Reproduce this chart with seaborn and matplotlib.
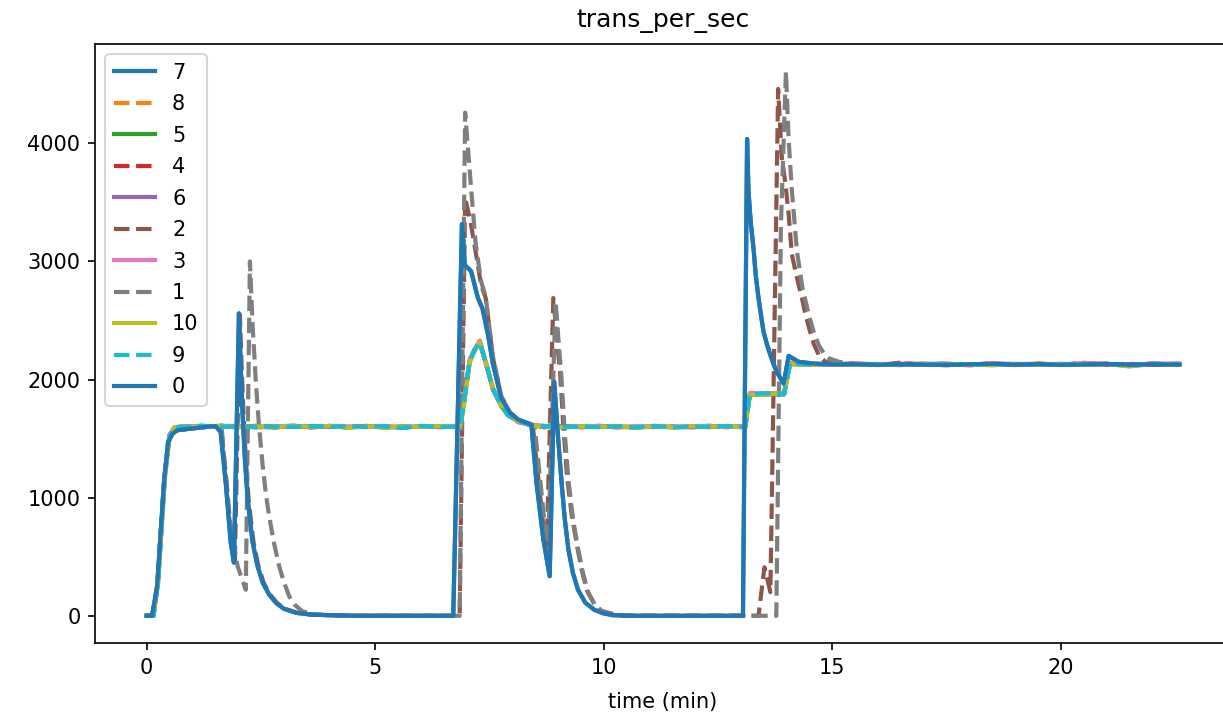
import matplotlib
matplotlib.use("Agg")
import matplotlib.pyplot as plt
import seaborn as sns

# legend / drawing order of the workers
labels = ["7", "8", "5", "4", "6", "2", "3", "1", "10", "9", "0"]

# workers 7 and 0 (blue, same curve)
t_blue = [0, 0.12, 0.23, 0.38, 0.47, 0.56, 0.67, 0.96, 1.34, 1.51,
          1.62, 1.73, 1.84, 1.91, 2.02, 2.06, 2.1, 2.15, 2.21, 2.27,
          2.32, 2.42, 2.54, 2.68, 2.83, 3.0, 3.27, 3.6, 4.0, 4.6,
          6.71, 6.9, 6.96, 7.1, 7.25, 7.35, 7.47, 7.58, 7.76, 7.95,
          8.13, 8.42, 8.53, 8.68, 8.82, 8.92, 9.0, 9.08, 9.15, 9.23,
          9.33, 9.44, 9.6, 9.8, 10.0, 10.2, 10.6, 13.05, 13.14, 13.17,
          13.22, 13.28, 13.33, 13.39, 13.45, 13.5, 13.58, 13.65, 13.72, 13.79,
          13.87, 13.94, 14.05, 14.27, 14.6, 15.0, 15.5, 16.0, 16.5, 17.0,
          17.5, 18.0, 18.5, 19.0, 19.5, 20.0, 20.5, 21.0, 21.5, 22.0,
          22.6]
v_blue = [0, 0, 250, 1130, 1470, 1540, 1570, 1585, 1600, 1606,
          1555, 1130, 620, 450, 2560, 2100, 1700, 1330, 990, 780,
          620, 430, 280, 180, 110, 60, 25, 10, 5, 0,
          0, 3315, 2970, 2918, 2690, 2600, 2380, 2130, 1840, 1720,
          1660, 1620, 1130, 650, 335, 1980, 1530, 1130, 820, 560,
          360, 220, 110, 50, 20, 5, 0, 0, 4036, 3600,
          3330, 3115, 2880, 2690, 2530, 2405, 2290, 2207, 2130, 2065,
          2010, 1966, 2200, 2150, 2135, 2128, 2130, 2125, 2131, 2127,
          2122, 2129, 2133, 2126, 2130, 2124, 2128, 2132, 2125, 2129,
          2127]

# worker 1 (gray dashed)
t_gray = [0, 0.12, 0.23, 0.38, 0.47, 0.56, 0.67, 0.96, 1.34, 1.64,
          1.8, 1.99, 2.17, 2.26, 2.32, 2.39, 2.46, 2.54, 2.61, 2.68,
          2.79, 2.9, 3.0, 3.12, 3.25, 3.41, 3.7, 4.0, 4.6, 6.85,
          6.97, 7.1, 7.2, 7.32, 7.42, 7.58, 7.76, 7.95, 8.1, 8.35,
          8.49, 8.78, 8.95, 9.02, 9.08, 9.15, 9.23, 9.33, 9.44, 9.55,
          9.66, 9.8, 9.96, 10.3, 10.8, 13.78, 13.88, 13.99, 14.05, 14.12,
          14.23, 14.35, 14.49, 14.6, 14.71, 14.82, 14.93, 15.15, 15.5, 16.0,
          16.5, 17.0, 17.5, 18.0, 18.5, 19.0, 19.5, 20.0, 20.5, 21.0,
          21.5, 22.0, 22.6]
v_gray = [0, 0, 250, 1130, 1470, 1540, 1570, 1585, 1600, 1604,
          845, 420, 220, 3000, 2450, 1980, 1600, 1270, 1030, 845,
          610, 420, 290, 165, 90, 37, 12, 3, 0, 0,
          4260, 3620, 3150, 2830, 2700, 2190, 1860, 1720, 1670, 1617,
          1610, 520, 2660, 2300, 2000, 1550, 1150, 820, 570, 360,
          200, 100, 40, 5, 0, 0, 3300, 4610, 4025, 3600,
          3090, 2780, 2550, 2400, 2290, 2220, 2180, 2150, 2131, 2127,
          2133, 2125, 2130, 2128, 2122, 2131, 2127, 2133, 2126, 2129,
          2124, 2130, 2126]

# worker 2 (brown dashed)
t_brown = [0, 0.12, 0.23, 0.38, 0.47, 0.56, 0.67, 0.96, 1.34, 1.53,
           1.64, 1.75, 1.86, 1.93, 2.04, 2.08, 2.12, 2.17, 2.23, 2.29,
           2.34, 2.44, 2.56, 2.7, 2.85, 3.02, 3.3, 3.6, 4.0, 4.6,
           6.85, 6.97, 7.1, 7.2, 7.32, 7.42, 7.58, 7.76, 7.95, 8.1,
           8.35, 8.45, 8.75, 8.9, 8.97, 9.05, 9.12, 9.2, 9.3, 9.42,
           9.52, 9.64, 9.78, 9.94, 10.3, 10.7, 13.39, 13.52, 13.65, 13.82,
           13.9, 13.98, 14.05, 14.12, 14.22, 14.34, 14.43, 14.52, 14.6, 14.71,
           14.85, 15.1, 15.5, 16.0, 16.5, 17.0, 17.5, 18.0, 18.5, 19.0,
           19.5, 20.0, 20.5, 21.0, 21.5, 22.0, 22.6]
v_brown = [0, 0, 250, 1130, 1470, 1540, 1570, 1585, 1600, 1606,
           1555, 1130, 620, 450, 2550, 2100, 1700, 1330, 990, 780,
           620, 430, 280, 180, 110, 60, 25, 10, 5, 0,
           0, 3540, 3310, 3080, 2800, 2690, 2180, 1855, 1715, 1668,
           1615, 1610, 505, 2690, 2380, 2050, 1600, 1180, 860, 590,
           390, 210, 110, 42, 5, 0, 0, 410, 200, 4460,
           3880, 3655, 3400, 3060, 2880, 2690, 2530, 2405, 2300, 2207,
           2150, 2135, 2128, 2132, 2126, 2130, 2134, 2124, 2129, 2127,
           2132, 2125, 2130, 2127, 2133, 2126, 2129]

# the steady workers (8, 5, 4, 6, 3, 10, 9) share one shape
t_steady = [0, 0.15, 0.25, 0.4, 0.5, 0.6, 0.8, 1.2, 1.6, 2.0, 2.4, 2.8, 3.2,
            3.6, 4.0, 4.4, 4.8, 5.2, 5.6, 6.0, 6.4, 6.85, 6.92, 7.07, 7.18, 7.29,
            7.43, 7.58, 7.76, 7.91, 8.13, 8.42, 8.7, 9.1, 9.5, 9.9, 10.3, 10.7, 11.1,
            11.5, 11.9, 12.3, 12.7, 13.1, 13.2, 13.55, 13.95, 14.08, 14.5, 15.0, 15.5, 16.0,
            16.5, 17.0, 17.5, 18.0, 18.5, 19.0, 19.5, 20.0, 20.5, 21.0, 21.5, 22.0, 22.6]
v_steady = [0, 0, 300, 1200, 1520, 1590, 1600, 1603, 1605, 1600, 1602, 1598, 1604,
            1600, 1603, 1598, 1602, 1600, 1597, 1603, 1600, 1600, 1747, 2160, 2250, 2320,
            2130, 1920, 1777, 1700, 1645, 1615, 1600, 1602, 1598, 1603, 1600, 1597, 1602,
            1600, 1598, 1603, 1600, 1600, 1875, 1878, 1880, 2136, 2130, 2128, 2132, 2126,
            2134, 2128, 2130, 2124, 2133, 2127, 2131, 2126, 2134, 2129, 2125, 2132, 2128]

# small per-worker wobble around the shared shape
d8 = [0, 0, 0, 10, -8, 5, 3, -4, 6, -5, 4, -6, 3,
      5, -3, 6, -4, 2, -5, 4, -3, 2, 0, 8, -6, 10,
      -5, 7, -4, 6, -3, 4, -5, 6, -4, 3, -6, 5, -2,
      4, -5, 3, -4, 2, 0, -5, 4, 0, 6, -3, 5, -6,
      4, -2, 6, -4, 3, -5, 7, -3, 4, -6, 2, 5, -4]
d5 = [0, 0, -10, -20, 6, -4, -3, 5, -6, 4, -2, 5, -5,
      -2, 4, -5, 3, -6, 2, -4, 5, -3, 10, -5, 8, -12,
      4, -6, 3, -5, 6, -3, 4, -7, 5, -2, 6, -4, 3,
      -5, 4, -6, 3, -3, 6, 5, -4, -4, -5, 4, -6, 3,
      -12, 5, -3, 6, -4, 2, -6, 4, -3, 5, -12, -2, 3]
d4 = [0, 0, 15, 20, 8, 2, 5, -3, 4, -6, 7, -2, 4,
      -6, 3, -2, 6, -4, 5, -3, 2, -4, -15, -10, 6, -8,
      5, -4, 7, -3, 5, -2, 6, -3, 2, -5, 4, -3, 6,
      -4, 2, -5, 7, -2, -6, 3, 7, 6, 8, -2, 3, -4,
      9, -3, 5, -2, 6, -5, 3, -2, 8, -4, 5, -3, 6]
d6 = [0, 0, -5, 10, -6, -8, -2, 4, -3, 5, -7, 3, -2,
      6, -5, 3, -2, 5, -6, 3, -4, 5, 12, -6, -5, 6,
      -7, 3, -5, 4, -6, 2, -3, 5, -2, 6, -4, 3, -5,
      2, -3, 6, -2, 4, 8, -4, -6, -5, -3, 6, -2, 5,
      -3, 4, -6, 3, -2, 6, -4, 2, -5, 4, -2, -7, 2]
d3 = [0, 0, 20, 30, 10, 4, 6, -2, 3, 7, -3, 4, 6,
      -2, 5, 3, -4, 6, 2, -3, 4, 6, 20, 12, 8, 10,
      6, 4, 2, 5, -2, 3, 7, -3, 5, 2, -4, 6, 3,
      -2, 7, 4, -3, 5, 10, 8, -3, 8, 4, -5, 7, 2,
      -4, 6, 3, -5, 7, 2, 4, -3, 6, 3, -2, 4, 7]
d10 = [0, 0, -30, -40, -20, 2, 4, -5, 3, -6, 2, -4, 5,
       -3, 4, -6, 2, -5, 3, -2, 6, -4, -30, -15, -6, -4,
       -3, 5, -2, -4, 3, -5, 2, -6, 4, -3, 5, -6, 2,
       -4, 6, -3, 4, -6, -8, -6, 5, -6, -7, 3, -5, 4,
       -2, 5, -7, 3, -12, 4, -5, 2, -6, 3, -14, 2, -3]
d9 = [0, 0, -10, 5, -4, 3, -2, 6, -4, 3, -5, 2, -3,
      4, -2, 5, -3, 4, -6, 5, -2, 3, -10, 5, 3, -4,
      2, -5, 4, -2, 3, -4, 5, -3, 2, -6, 3, -2, 4,
      -5, 3, -2, 5, -4, -3, 5, -2, 3, -4, 5, -2, 4,
      -5, 2, -3, 5, -4, 3, -2, 6, -3, 2, -5, 3, -2]


def steady(d):
    return [b + x for b, x in zip(v_steady, d)]


series = {
    "7": (t_blue, v_blue),
    "8": (t_steady, steady(d8)),
    "5": (t_steady, steady(d5)),
    "4": (t_steady, steady(d4)),
    "6": (t_steady, steady(d6)),
    "2": (t_brown, v_brown),
    "3": (t_steady, steady(d3)),
    "1": (t_gray, v_gray),
    "10": (t_steady, steady(d10)),
    "9": (t_steady, steady(d9)),
    "0": (t_blue, v_blue),
}

W, H, DPI = 1223, 718, 150
fig, ax = plt.subplots(figsize=(W / DPI, H / DPI), dpi=DPI)
ax.set_position([95 / W, 75 / H, 1136 / W, 599 / H])

colors = sns.color_palette("tab10", 10)
for i, name in enumerate(labels):
    t, v = series[name]
    sns.lineplot(
        x=t,
        y=v,
        ax=ax,
        color=colors[i % 10],
        linestyle="-" if i % 2 == 0 else "--",
        linewidth=2,
        label=name,
    )

ax.set_title("trans_per_sec", pad=8)
ax.set_xlabel("time (min)", labelpad=7)
ax.set_ylabel("")
ax.set_xticks([0, 5, 10, 15, 20])
ax.set_yticks([0, 1000, 2000, 3000, 4000])
ax.legend(loc="upper left", labelspacing=0.55)

fig.savefig("out.png", dpi=DPI)
